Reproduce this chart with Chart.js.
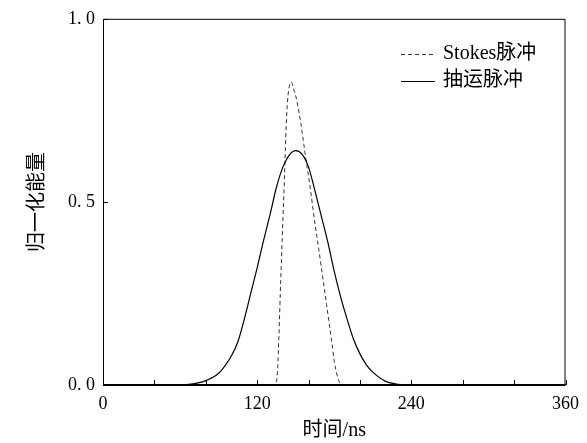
<!DOCTYPE html>
<html>
<head>
<meta charset="utf-8">
<script src="https://cdn.jsdelivr.net/npm/chart.js@4.4.1/dist/chart.umd.min.js"></script>
<style>
  body { margin: 0; background: #fff; }
  #wrap { width: 587px; height: 443px; }
</style>
</head>
<body>
<div id="wrap"><canvas id="pulseChart" width="587" height="443"></canvas></div>
<script>
// pump pulse (solid)
const pumpTime = [0, 60, 70, 80, 90, 100, 105, 110, 115, 120, 125, 130, 135, 140, 145, 150,
  155, 160, 165, 170, 175, 180, 185, 190, 195, 200, 205, 210, 220, 230, 240, 360];
const pumpEnergy = [0, 0, 0.003, 0.012, 0.032, 0.08, 0.118, 0.18, 0.25, 0.32, 0.395, 0.465, 0.54, 0.595, 0.628, 0.64,
  0.63, 0.595, 0.53, 0.46, 0.39, 0.31, 0.24, 0.18, 0.125, 0.085, 0.055, 0.035, 0.01, 0.002, 0, 0];

// Stokes pulse (dashed)
const stokesTime = [0, 133, 135, 136, 137, 138, 139, 140, 141, 142, 143, 144, 145, 146, 147, 148, 150,
  152, 154, 156, 158, 160, 162, 165, 168, 170, 172, 174, 176, 178, 180, 182, 184, 186, 360];
const stokesEnergy = [0, 0, 0.01, 0.05, 0.14, 0.25, 0.35, 0.45, 0.54, 0.65, 0.74, 0.79, 0.815, 0.827, 0.825, 0.812, 0.79,
  0.755, 0.715, 0.665, 0.615, 0.57, 0.52, 0.44, 0.37, 0.32, 0.27, 0.22, 0.17, 0.12, 0.065, 0.03, 0.008, 0, 0];

const xLabelTicks = [0, 120, 240, 360];
const xTickStep = 40;
const yLabelTicks = [0, 0.5, 1.0];

const serif = "'Liberation Serif', 'Times New Roman', 'Noto Sans CJK SC', serif";

function toPoints(xs, ys) {
  return xs.map((x, i) => ({ x: x, y: ys[i] }));
}

// frame, inward ticks and in-plot legend
const framePlugin = {
  id: 'frame',
  afterDraw(chart) {
    const ctx = chart.ctx;
    const a = chart.chartArea;
    const xs = chart.scales.x, ys = chart.scales.y;
    ctx.save();
    ctx.strokeStyle = '#000';
    ctx.lineWidth = 1;
    ctx.beginPath();
    ctx.moveTo(a.left + 0.5, a.bottom);
    ctx.lineTo(a.left + 0.5, a.top + 0.5);
    ctx.lineTo(a.right - 0.5, a.top + 0.5);
    ctx.lineTo(a.right - 0.5, a.bottom);
    ctx.stroke();
    ctx.lineWidth = 2;
    ctx.beginPath();
    ctx.moveTo(a.left, a.bottom);
    ctx.lineTo(a.right, a.bottom);
    ctx.stroke();
    ctx.lineWidth = 1;
    ctx.beginPath();
    xs.ticks.forEach(t => {
      const px = Math.round(xs.getPixelForValue(t.value)) + 0.5;
      ctx.moveTo(px, a.bottom);
      ctx.lineTo(px, a.bottom - 5);
    });
    ys.ticks.forEach(t => {
      const py = Math.round(ys.getPixelForValue(t.value)) + 0.5;
      ctx.moveTo(a.left, py);
      ctx.lineTo(a.left + 5, py);
    });
    ctx.stroke();

    // legend
    ctx.font = '20px ' + serif;
    ctx.textBaseline = 'middle';
    ctx.fillStyle = '#000';
    const order = [1, 0];
    order.forEach((di, row) => {
      const ds = chart.data.datasets[di];
      const y = 54 + row * 27;
      ctx.strokeStyle = ds.borderColor;
      ctx.lineWidth = 1;
      ctx.setLineDash(ds.borderDash || []);
      ctx.beginPath();
      ctx.moveTo(401, y + 0.5);
      ctx.lineTo(435, y + 0.5);
      ctx.stroke();
      ctx.setLineDash([]);
      ctx.fillText(ds.label, 443, y);
    });
    ctx.restore();
  }
};

new Chart(document.getElementById('pulseChart'), {
  type: 'line',
  data: {
    datasets: [
      {
        label: '抽运脉冲',
        data: toPoints(pumpTime, pumpEnergy),
        borderColor: '#000',
        borderWidth: 1.2,
        pointRadius: 0,
        fill: false,
        cubicInterpolationMode: 'monotone'
      },
      {
        label: 'Stokes脉冲',
        data: toPoints(stokesTime, stokesEnergy),
        borderColor: '#333',
        borderWidth: 1,
        borderDash: [4, 3],
        pointRadius: 0,
        fill: false,
        cubicInterpolationMode: 'monotone'
      }
    ]
  },
  options: {
    responsive: false,
    animation: false,
    layout: { padding: { top: 15, right: 17, left: 0, bottom: 0 } },
    plugins: {
      legend: { display: false },
      tooltip: { enabled: false }
    },
    scales: {
      x: {
        type: 'linear',
        min: 0,
        max: 360,
        afterFit(scale) { scale.height = 58; },
        grid: { display: false, drawTicks: false },
        border: { display: false },
        ticks: {
          stepSize: xTickStep,
          autoSkip: false,
          maxRotation: 0,
          padding: 8,
          color: '#000',
          font: { family: serif, size: 18 },
          callback: v => xLabelTicks.includes(v) ? String(v) : ''
        },
        title: {
          display: true,
          text: '时间/ns',
          color: '#000',
          font: { family: serif, size: 20 },
          padding: { top: 0, bottom: 0 }
        }
      },
      y: {
        min: 0,
        max: 1,
        afterFit(scale) { scale.width = 103; },
        grid: { display: false, drawTicks: false },
        border: { display: false },
        ticks: {
          stepSize: 0.5,
          padding: 8,
          color: '#000',
          font: { family: serif, size: 18 },
          callback: v => yLabelTicks.includes(v) ? v.toFixed(1).replace('.', '. ') : ''
        },
        title: {
          display: true,
          text: '归一化能量',
          color: '#000',
          font: { family: serif, size: 20 },
          padding: { top: 26, bottom: 0 }
        }
      }
    }
  },
  plugins: [framePlugin]
});
</script>
</body>
</html>
